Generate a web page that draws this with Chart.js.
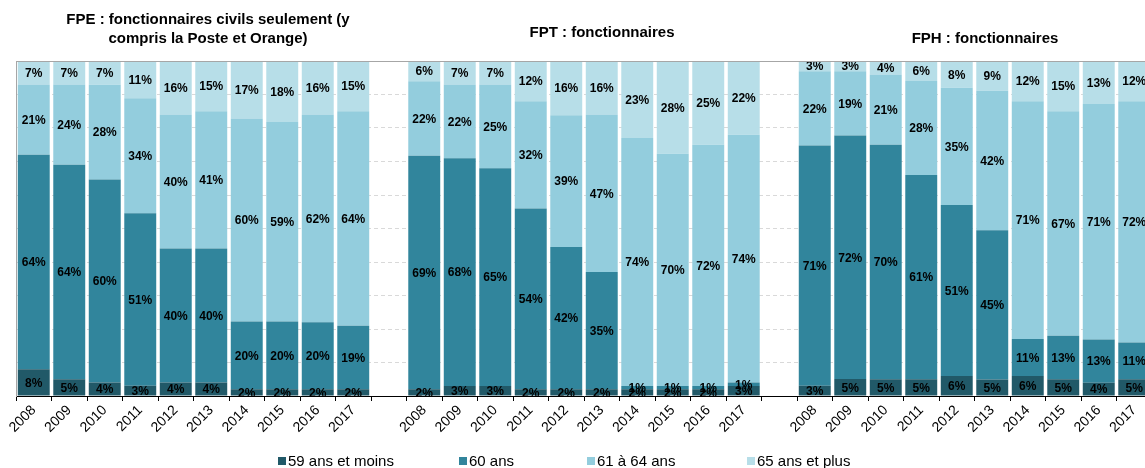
<!DOCTYPE html>
<html><head><meta charset="utf-8">
<script src="https://cdn.jsdelivr.net/npm/chart.js@4.4.0/dist/chart.umd.min.js"></script>
<style>html,body{margin:0;padding:0;overflow:hidden;background:#fff}</style>
</head><body>
<canvas id="c" width="1152" height="468" style="display:block;width:1152px;height:468px"></canvas>
<script>
// ---- data ----
const years = ['2008','2009','2010','2011','2012','2013','2014','2015','2016','2017'];
const groupTitles = [['FPE : fonctionnaires civils seulement (y', 'compris la Poste et Orange)'], ['FPT : fonctionnaires'], ['FPH : fonctionnaires']];
const seriesNames = ['59 ans et moins', '60 ans', '61 à 64 ans', '65 ans et plus'];

const fpe59   = [8, 5, 4, 3, 4, 4, 2, 2, 2, 2];
const fpe60   = [64, 64, 60, 51, 40, 40, 20, 20, 20, 19];
const fpe6164 = [21, 24, 28, 34, 40, 41, 60, 59, 62, 64];
const fpe65   = [7, 7, 7, 11, 16, 15, 17, 18, 16, 15];

const fpt59   = [2, 3, 3, 2, 2, 2, 2, 2, 2, 3];
const fpt60   = [69, 68, 65, 54, 42, 35, 1, 1, 1, 1];
const fpt6164 = [22, 22, 25, 32, 39, 47, 74, 70, 72, 74];
const fpt65   = [6, 7, 7, 12, 16, 16, 23, 28, 25, 22];

const fph59   = [3, 5, 5, 5, 6, 5, 6, 5, 4, 5];
const fph60   = [71, 72, 70, 61, 51, 45, 11, 13, 13, 11];
const fph6164 = [22, 19, 21, 28, 35, 42, 71, 67, 71, 72];
const fph65   = [3, 3, 4, 6, 8, 9, 12, 15, 13, 12];

// ---- styles ----
const colors = ['#215968', '#31859C', '#93CDDD', '#B7DEE8'];
const FONT = '"Liberation Sans", Arial, Helvetica, sans-serif';
const titlePos = [{x: 208, ys: [24, 43]}, {x: 602, ys: [37]}, {x: 985, ys: [43]}];
const legendX = [278, 459, 587, 747];
const legendY = 461;

// ---- build ----
const join = (a, b, c) => [...a, null, ...b, null, ...c];
const labels = join(years, [''], years).filter((v, i) => true);
labels.splice(10, 1, ''); // keep structure: 10 + gap + 10 + gap + 10
const allLabels = [...years, '', ...years, '', ...years];
const raw = [
  join(fpe59, fpt59, fph59),
  join(fpe60, fpt60, fph60),
  join(fpe6164, fpt6164, fph6164),
  join(fpe65, fpt65, fph65)
];
const sums = allLabels.map((_, i) => raw.reduce((s, r) => s + (r[i] || 0), 0));
const datasets = raw.map((r, k) => ({
  label: seriesNames[k],
  rawValues: r,
  data: r.map((v, i) => v == null ? null : v * 100 / sums[i]),
  backgroundColor: colors[k],
  borderWidth: 0,
  categoryPercentage: 1.0,
  barPercentage: 0.9
}));

const decorPlugin = {
  id: 'decor',
  afterDatasetsDraw(chart) {
    const ctx = chart.ctx;
    const a = chart.chartArea;
    ctx.save();
    // labels
    ctx.font = 'bold 12px ' + FONT;
    ctx.textAlign = 'center';
    ctx.textBaseline = 'middle';
    ctx.fillStyle = '#000';
    chart.data.datasets.forEach((ds, di) => {
      const meta = chart.getDatasetMeta(di);
      meta.data.forEach((bar, i) => {
        const v = ds.rawValues[i];
        if (v == null) return;
        ctx.fillText(v + '%', bar.x, (bar.y + bar.base) / 2 + 1);
      });
    });
    // top frame line
    ctx.strokeStyle = '#a6a6a6';
    ctx.lineWidth = 1;
    ctx.beginPath();
    ctx.moveTo(a.left, a.top + 0.5);
    ctx.lineTo(a.right, a.top + 0.5);
    ctx.stroke();
    ctx.restore();
  },
  afterDraw(chart) {
    const ctx = chart.ctx;
    ctx.save();
    ctx.fillStyle = '#000';
    ctx.textAlign = 'center';
    ctx.textBaseline = 'alphabetic';
    ctx.font = 'bold 15px ' + FONT;
    groupTitles.forEach((lines, g) => {
      lines.forEach((t, j) => ctx.fillText(t, titlePos[g].x, titlePos[g].ys[j]));
    });
    // legend
    ctx.font = '15px ' + FONT;
    ctx.textAlign = 'left';
    ctx.textBaseline = 'middle';
    chart.data.datasets.forEach((ds, k) => {
      ctx.fillStyle = ds.backgroundColor;
      ctx.fillRect(legendX[k], legendY - 4, 8, 8);
      ctx.fillStyle = '#000';
      ctx.fillText(ds.label, legendX[k] + 10, legendY + 1);
    });
    ctx.restore();
  }
};

new Chart(document.getElementById('c'), {
  type: 'bar',
  data: {labels: allLabels, datasets},
  options: {
    responsive: false,
    animation: false,
    layout: {padding: {left: 16, right: 0, top: 61, bottom: 32}},
    plugins: {legend: {display: false}, tooltip: {enabled: false}, title: {display: false}},
    scales: {
      x: {
        stacked: true,
        offset: true,
        grid: {offset: true, drawOnChartArea: false, drawTicks: true, tickLength: 5, color: '#000'},
        border: {display: true, color: '#000', width: 1},
        ticks: {minRotation: 45, maxRotation: 45, autoSkip: false, padding: 1, color: '#000', font: {family: FONT, size: 14}},
        afterFit(s) { s.height = 40; }
      },
      y: {
        stacked: true,
        min: 0, max: 100,
        ticks: {display: false, stepSize: 10},
        grid: {drawTicks: false, color: (c) => (c.tick && (c.tick.value === 0 || c.tick.value === 100)) ? 'rgba(0,0,0,0)' : '#d9d9d9'},
        border: {display: true, color: '#a6a6a6', dash: [4, 3]},
        afterFit(s) { s.width = 0; }
      }
    }
  },
  plugins: [decorPlugin]
});
</script>
</body></html>
